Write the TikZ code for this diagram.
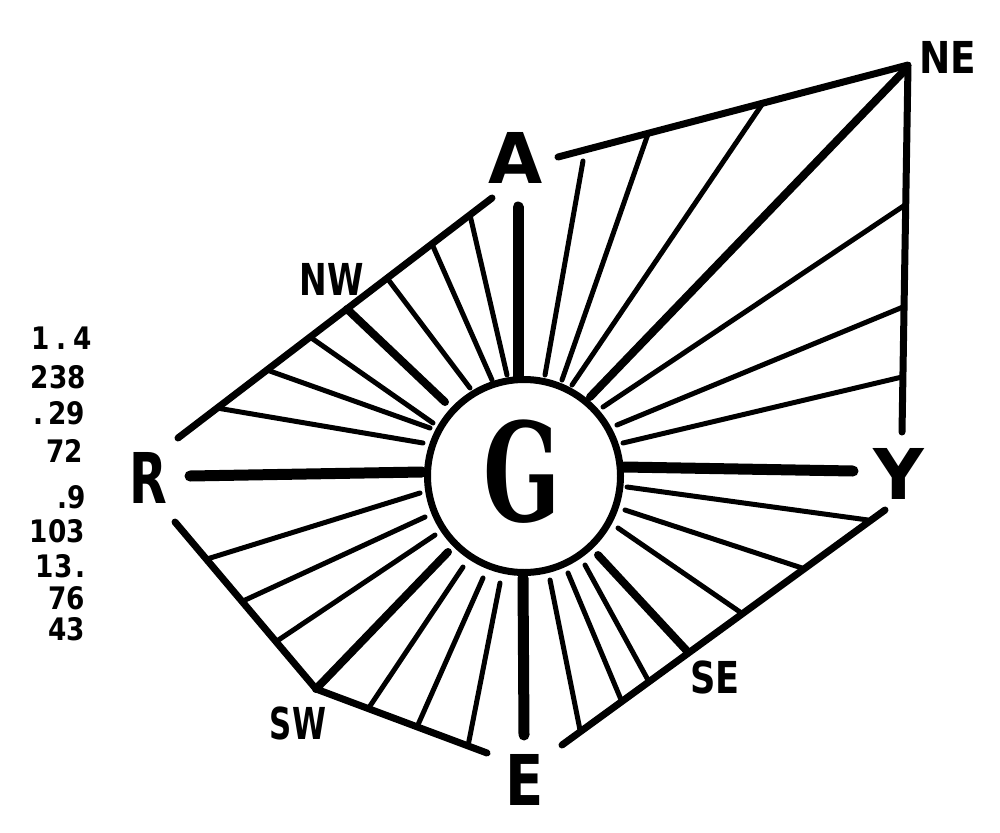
\documentclass[tikz,border=0pt]{standalone}
\usepackage{fontspec}
\newfontfamily\handfont{DejaVu Sans}
\newfontfamily\gfont{DejaVu Serif}
\begin{document}
\begin{tikzpicture}[x=1pt,y=-1pt,line cap=round,line join=round,
  edge/.style={line width=7pt},
  axisline/.style={line width=11pt},
  diag/.style={line width=8pt},
  ray/.style={line width=5pt},
  big/.style={inner sep=0pt,font=\handfont\bfseries\fontsize{70}{70}\selectfont},
  small/.style={inner sep=0pt,font=\handfont\bfseries\fontsize{44}{44}\selectfont},
  num/.style={inner sep=0pt,anchor=east,font=\handfont\bfseries\fontsize{31}{31}\selectfont}]
\fill[white] (0,0) rectangle (1000,832);
\useasboundingbox (0,0) rectangle (1000,832);

% centre circle
\node[circle,draw,line width=7pt,minimum size=193pt,inner sep=0pt,fill=white] (G) at (524,476) {};
\node[inner sep=0pt,font=\gfont\bfseries\fontsize{137}{137}\selectfont] (Gl) at (522,472) {\scalebox{0.66}[1]{G}};

% outline corners
\coordinate (A1) at (558,157);
\coordinate (NEc) at (908,65);
\coordinate (Yb) at (902,432);
\coordinate (Y1) at (885,510);
\coordinate (SEe) at (562,745);
\coordinate (Ee) at (487,753);
\coordinate (SWc) at (316,689);
\coordinate (R2) at (175,522);
\coordinate (R1) at (178,438);
\coordinate (A0) at (492,198);

\draw[edge] (A1) -- (NEc) -- (Yb);
\draw[edge] (Y1) -- (SEe);
\draw[edge] (R2) -- (SWc) -- (Ee);
\draw[edge] (R1) -- (A0);

% main axes
\coordinate (At) at (518,207); \coordinate (Ab) at (518,377);
\coordinate (Rl) at (190,476); \coordinate (Rr) at (422,472);
\coordinate (Yl) at (624,467); \coordinate (Yr) at (853,471);
\coordinate (Et) at (523,578); \coordinate (Eb) at (524,735);
\draw[axisline] (Ab) -- (At);
\draw[axisline] (Rr) -- (Rl);
\draw[axisline] (Yl) -- (Yr);
\draw[axisline] (Et) -- (Eb);

% rays
\foreach \n/\s/\ix/\iy/\ox/\oy in {
 1/ray/423/443/217/408, 2/ray/430/428/267/370, 3/ray/433/423/310/337,
 4/diag/445/402/347/309, 5/ray/470/388/387/278, 6/ray/492/380/432/244,
 7/ray/507/375/470/215,
 8/ray/545/375/583/161, 9/ray/562/380/648/134, 10/ray/572/385/763/103,
 11/diag/590/397/905/70, 12/ray/603/407/905/205, 13/ray/617/425/903/307,
 14/ray/623/443/902/377,
 15/ray/627/487/868/520, 16/ray/625/510/802/568, 17/ray/618/528/740/612,
 18/diag/598/555/687/651, 19/ray/585/565/648/680, 20/ray/568/573/622/702,
 21/ray/550/580/580/730,
 22/ray/420/493/207/559, 23/ray/425/517/243/601, 24/ray/435/535/277/641,
 25/diag/448/552/316/689, 26/ray/463/567/368/709, 27/ray/483/578/417/727,
 28/ray/500/583/468/746}
{
 \coordinate (r\n i) at (\ix,\iy);
 \coordinate (r\n o) at (\ox,\oy);
 \draw[\s] (r\n i) -- (r\n o);
}

% labels
\node[big] (A) at (516,158) {A};
\node[big] (R) at (148,478) {\scalebox{0.7}[1]{R}};
\node[big] (Y) at (899,474) {Y};
\node[big] (E) at (525,780) {\scalebox{0.8}[1]{E}};
\node[small] (NE) at (948,57) {\scalebox{0.85}[1]{NE}};
\node[small] (NW) at (332,279) {\scalebox{0.75}[1]{NW}};
\node[small] (SE) at (715,677) {\scalebox{0.8}[1]{SE}};
\node[small] (SW) at (298,723) {\scalebox{0.7}[1]{SW}};

% numbers
\node[num] (n1) at (92,338) {\scalebox{0.85}[1]{1\kern8pt.\kern8pt4}};
\node[num] (n2) at (86,377) {\scalebox{0.85}[1]{238}};
\node[num] (n3) at (85,413) {\scalebox{0.85}[1]{.\kern5pt29}};
\node[num] (n4) at (83,451) {\scalebox{0.85}[1]{72}};
\node[num] (n5) at (86,497) {\scalebox{0.85}[1]{.9}};
\node[num] (n6) at (85,531) {\scalebox{0.85}[1]{103}};
\node[num] (n7) at (86,566) {\scalebox{0.85}[1]{13\kern4pt.}};
\node[num] (n8) at (85,598) {\scalebox{0.85}[1]{76}};
\node[num] (n9) at (85,629) {\scalebox{0.85}[1]{43}};
\end{tikzpicture}
\end{document}
